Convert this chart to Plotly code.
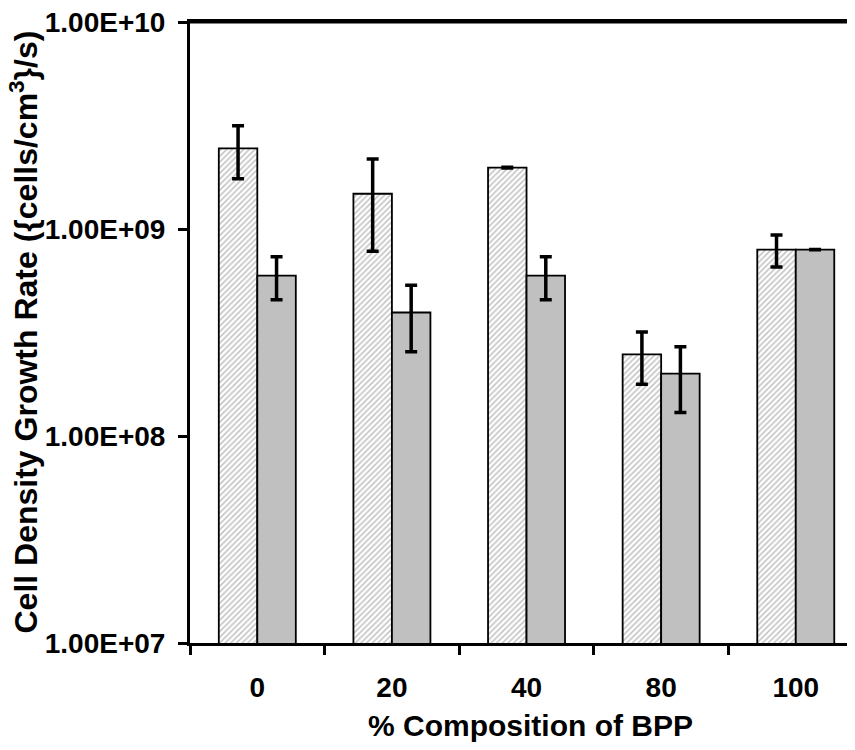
import plotly.graph_objects as go

categories = ["0", "20", "40", "80", "100"]
hatched_vals = [2.45e9, 1.48e9, 1.98e9, 2.48e8, 7.95e8]
hatched_err = [0.70e9, 0.70e9, 0.01e9, 0.70e8, 1.40e8]
gray_vals = [5.95e8, 3.95e8, 5.95e8, 2.0e8, 7.95e8]
gray_err = [1.40e8, 1.40e8, 1.40e8, 0.70e8, 0.01e8]
ytick_vals = [1e7, 1e8, 1e9, 1e10]
ytick_text = ["1.00E+07", "1.00E+08", "1.00E+09", "1.00E+10"]

FONT = "Liberation Sans, Arial, sans-serif"

# page body has an 8px margin; compensate so the plot area lands at x 190..855, y 22..643
L, T, PW, PH = 182, 14, 665, 621

fig = go.Figure()
fig.add_trace(go.Bar(
    x=categories, y=hatched_vals,
    marker=dict(color="white", line=dict(color="black", width=1.8),
                pattern=dict(shape="/", fgcolor="#8a8a8a", bgcolor="white", size=4, solidity=0.4)),
    error_y=dict(type="data", array=hatched_err, visible=True, thickness=3.5, width=6, color="black"),
    showlegend=False,
))
fig.add_trace(go.Bar(
    x=categories, y=gray_vals,
    marker=dict(color="#c0c0c0", line=dict(color="black", width=1.8)),
    error_y=dict(type="data", array=gray_err, visible=True, thickness=3.5, width=6, color="black"),
    showlegend=False,
))

fig.update_layout(
    width=L + PW, height=T + PH + 107,
    margin=dict(l=L, r=0, t=T, b=107),
    paper_bgcolor="white", plot_bgcolor="white",
    barmode="group", bargap=0.428, bargroupgap=0,
    font=dict(family=FONT, color="black"),
    xaxis=dict(
        type="category", categoryorder="array", categoryarray=categories,
        range=[-0.5, 4.44],
        showline=True, linecolor="black", linewidth=3, mirror=True,
        ticks="outside", tickson="boundaries", ticklen=9, tickwidth=2.5, tickcolor="black",
        tickfont=dict(family=FONT, size=28, color="black", weight="bold"),
        ticklabelstandoff=17,
        showgrid=False, zeroline=False,
    ),
    yaxis=dict(
        type="log", range=[7, 10],
        tickvals=ytick_vals, ticktext=ytick_text,
        showline=True, linecolor="black", linewidth=3,
        ticks="outside", ticklen=9, tickwidth=2.5, tickcolor="black",
        tickfont=dict(family=FONT, size=28, color="black", weight="bold"),
        ticklabelstandoff=7, ticklabeloverflow="allow",
        showgrid=False, zeroline=False,
    ),
    shapes=[
        dict(type="line", xref="paper", yref="paper", x0=-0.003, x1=1, y0=1, y1=1,
             line=dict(color="black", width=3), layer="above"),
    ],
    annotations=[
        dict(text="<b>Cell Density Growth Rate ({cells/cm<sup>3</sup>}/s)</b>",
             xref="paper", yref="paper", x=-(190 - 23) / PW, y=0.5,
             xanchor="center", yanchor="middle", textangle=-90, showarrow=False,
             font=dict(family=FONT, size=32, color="black")),
        dict(text="<b>% Composition of BPP</b>",
             xref="paper", yref="paper", x=(530 - 190) / PW, y=-(725 - 643) / PH,
             xanchor="center", yanchor="middle", showarrow=False,
             font=dict(family=FONT, size=30, color="black")),
    ],
)

fig.write_html("out.html")
